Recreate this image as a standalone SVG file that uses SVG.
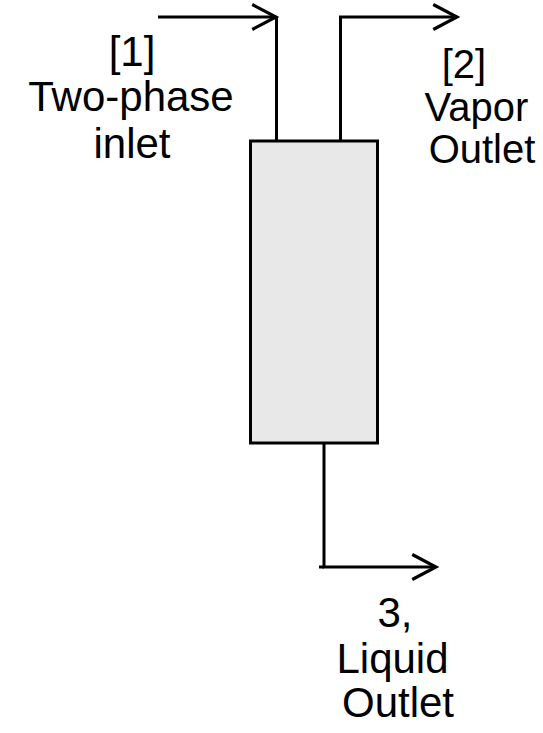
<svg xmlns="http://www.w3.org/2000/svg" width="543" height="733" viewBox="0 0 543 733">
<style>
.ln{fill:none;stroke:#000;stroke-width:3}
.lbl{font-family:"Liberation Sans",Arial,sans-serif;font-size:42px;fill:#000;text-anchor:middle}
.sm{font-size:40px}
</style>
<defs>
<marker id="arr" markerUnits="userSpaceOnUse" markerWidth="30" markerHeight="30" viewBox="-22 -12 24 24" refX="0" refY="0" orient="auto" overflow="visible">
<path d="M-19,-10 L0,0 L-19,10" fill="none" stroke="#000" stroke-width="2.5"/>
</marker>
</defs>
<rect width="543" height="733" fill="#fff"/>
<g id="separator">
<rect x="250.5" y="141" width="127" height="302" fill="#e8e8e8" stroke="#000" stroke-width="3"/>
</g>
<g id="connectors">
<path class="ln" d="M158,17 H276" marker-end="url(#arr)"/>
<path class="ln" d="M276.5,17 V141"/>
<path class="ln" d="M340.5,141 V17 H457" marker-end="url(#arr)"/>
<path class="ln" d="M324,443 V567 H436" marker-end="url(#arr)"/>
<path class="ln" d="M319,567 H324"/>
</g>
<g id="inlet-label">
<text class="lbl"><tspan x="132" y="66">[1]</tspan><tspan x="131" y="111">Two-phase</tspan><tspan x="132" y="158">inlet</tspan></text>
</g>
<g id="vapor-label">
<text class="lbl sm"><tspan x="464" y="78">[2]</tspan><tspan x="476.5" y="121">Vapor</tspan><tspan x="482" y="163">Outlet</tspan></text>
</g>
<g id="liquid-label">
<text class="lbl"><tspan x="395" y="627">3,</tspan><tspan x="392.5" y="673">Liquid</tspan><tspan x="398" y="717">Outlet</tspan></text>
</g>
</svg>
